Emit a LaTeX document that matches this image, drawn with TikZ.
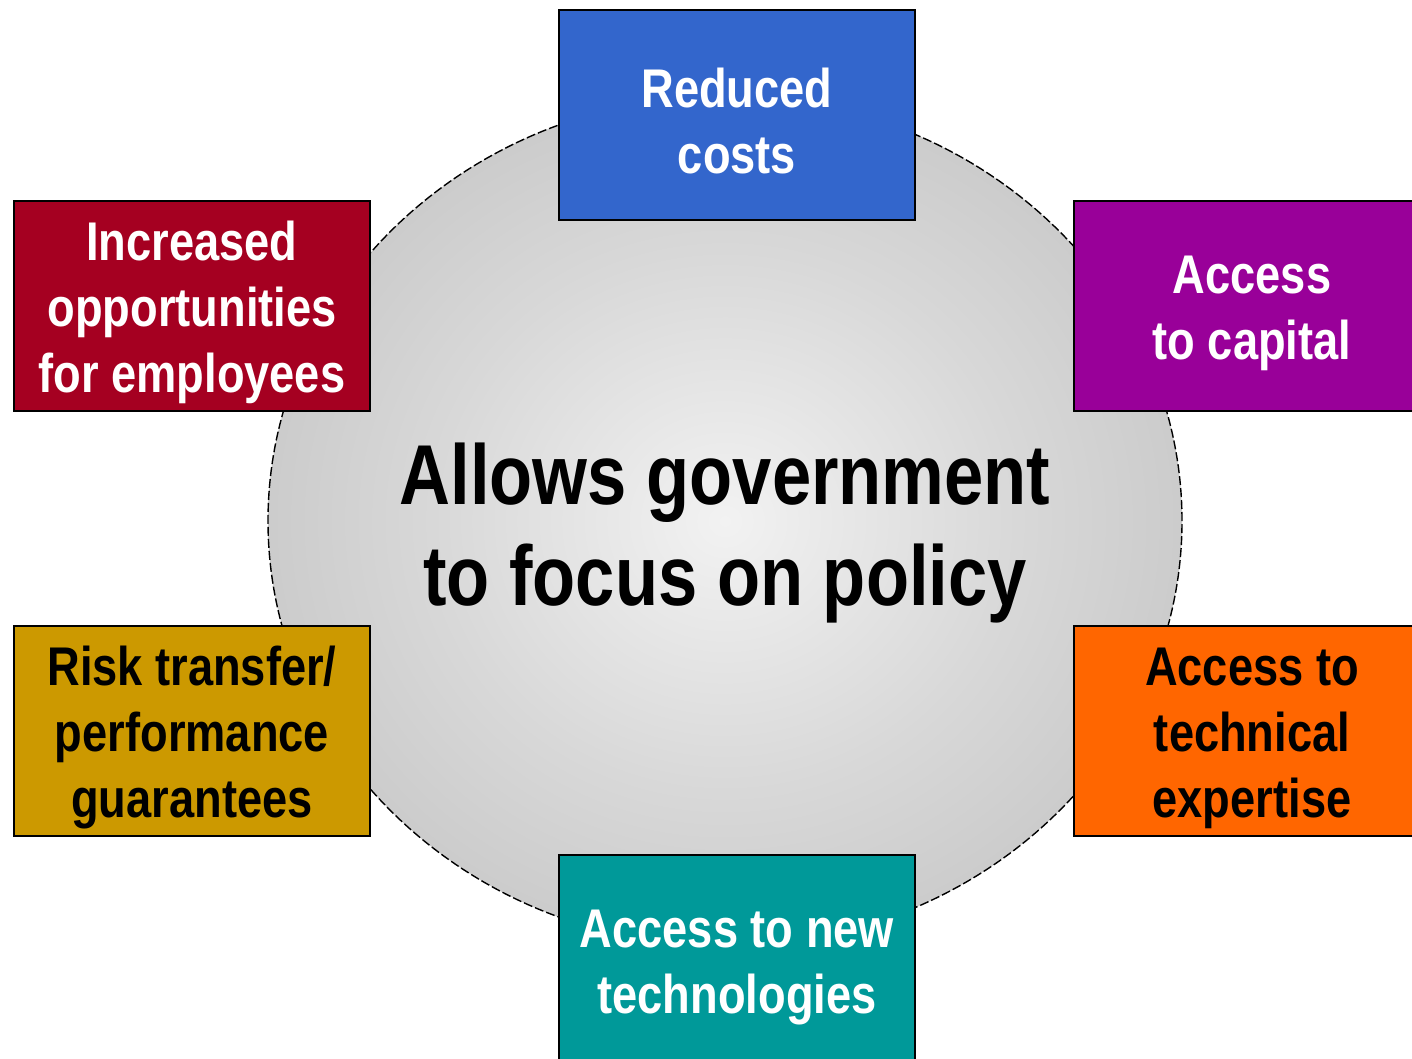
\documentclass[tikz,border=0pt]{standalone}
\usepackage{fontspec}
\setmainfont{Liberation Sans}[FakeStretch=0.83]
\usetikzlibrary{shapes.geometric}

\definecolor{boxblue}{HTML}{3366CC}
\definecolor{boxpurple}{HTML}{990099}
\definecolor{boxred}{HTML}{A50021}
\definecolor{boxgold}{HTML}{CC9900}
\definecolor{boxorange}{HTML}{FF6600}
\definecolor{boxteal}{HTML}{009999}
\definecolor{hubinner}{HTML}{F2F2F2}
\definecolor{hubmid}{HTML}{D8D8D8}
\definecolor{hubouter}{HTML}{C1C1C1}

% soft grey glow for the central disc
\pgfdeclareradialshading{hubglow}{\pgfpoint{0bp}{0bp}}{%
  color(0bp)=(hubinner); color(16bp)=(hubmid); color(33bp)=(hubouter); color(50bp)=(hubouter)}

% tall strut opening the first line, so the lines sit a little lower in the box
\newcommand{\firststrut}{\rule{0pt}{52pt}}

\tikzset{
  benefit/.style={draw=black, line width=2pt, minimum width=356pt, minimum height=210pt,
    inner sep=0pt, align=center, font=\bfseries\fontsize{54.5}{66}\selectfont},
  hub/.style={ellipse, minimum width=914pt, minimum height=850pt, inner sep=0pt,
    shading=hubglow, draw=black, line width=1.4pt, dash pattern=on 9pt off 3pt},
  hubtext/.style={align=center, font=\bfseries\fontsize{85}{101}\selectfont}
}

\begin{document}
\begin{tikzpicture}[x=1pt, y=-1pt]
  \useasboundingbox (0,0) rectangle (1412,1059);
  \clip (0,0) rectangle (1412,1059);
  \fill[white] (0,0) rectangle (1412,1059);

  % central disc
  \node[hub] (hub) at (725,521) {};

  % surrounding benefits
  \node[benefit, fill=boxblue, text=white]   (costs)     at (737,115)  {\firststrut Reduced\\costs};
  \node[benefit, fill=boxpurple, text=white] (capital)   at (1252,306) {\firststrut Access\\to capital};
  \node[benefit, fill=boxred, text=white]    (employees) at (192,306)  {\firststrut Increased\\opportunities\\for employees};
  \node[benefit, fill=boxgold, text=black]   (risk)      at (192,731)  {\firststrut Risk transfer/\\performance\\guarantees};
  \node[benefit, fill=boxorange, text=black] (expertise) at (1252,731) {\firststrut Access to\\technical\\expertise};
  \node[benefit, fill=boxteal, text=white]   (tech)      at (737,960)  {\firststrut Access to new\\technologies};

  % central message
  \node[hubtext] (focus) at (725,533) {Allows government\\to focus on policy};
\end{tikzpicture}
\end{document}
